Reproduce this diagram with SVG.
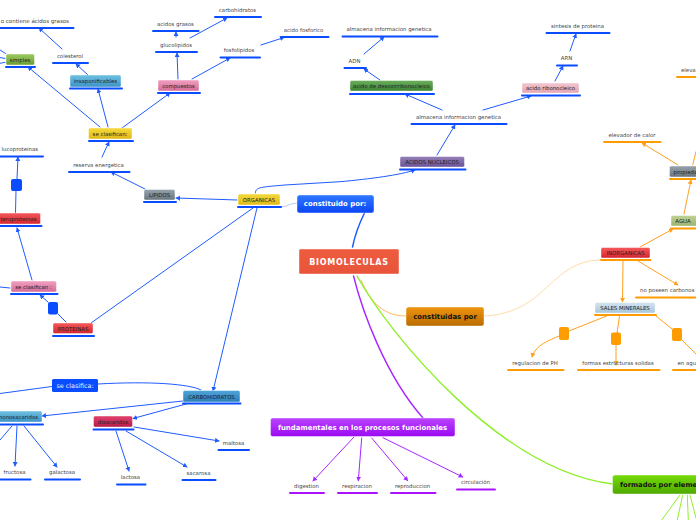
<svg xmlns="http://www.w3.org/2000/svg" width="696" height="520" viewBox="0 0 696 520">
<defs>
<style>
text{font-family:"DejaVu Sans",Verdana,sans-serif;font-size:5.4px;fill:#444;text-anchor:middle}
.n{fill:#222;font-size:5.4px}
.s{text-anchor:start}
.e{text-anchor:end}
.w{fill:#fff;font-weight:bold;font-size:8px}
.k{fill:#111;font-weight:bold;font-size:6.95px}
.box{stroke:#fff;stroke-opacity:.55;stroke-width:.8}
.c{fill:none;stroke-linecap:round}
.b{stroke:#1f5cff;stroke-width:1}
.o{stroke:#ffa020;stroke-width:1}
.p{stroke:#a626ff;stroke-width:1}
.g{stroke:#8ff02a;stroke-width:1}
.u{stroke-width:2;stroke-linecap:round}
.ub{stroke:#0a4cff}.uo{stroke:#ff9c00}.up{stroke:#a913ff}
.sqb{fill:#0a4cff}.sqo{fill:#ff9c00}
</style>
<marker id="ab" markerWidth="6" markerHeight="6" refX="4" refY="2.5" orient="auto" markerUnits="userSpaceOnUse"><path d="M0 0L4.5 2.5L0 5z" fill="#1f5cff"/></marker>
<marker id="ao" markerWidth="6" markerHeight="6" refX="4" refY="2.5" orient="auto" markerUnits="userSpaceOnUse"><path d="M0 0L4.5 2.5L0 5z" fill="#ffa020"/></marker>
<marker id="ap" markerWidth="6" markerHeight="6" refX="4" refY="2.5" orient="auto" markerUnits="userSpaceOnUse"><path d="M0 0L4.5 2.5L0 5z" fill="#a626ff"/></marker>
<linearGradient id="gGreen" x1="0" y1="0" x2="0" y2="1"><stop offset="0" stop-color="#9ccb62"/><stop offset="1" stop-color="#6b9d33"/></linearGradient>
<linearGradient id="gCyan" x1="0" y1="0" x2="0" y2="1"><stop offset="0" stop-color="#6fc1e2"/><stop offset="1" stop-color="#3b93c4"/></linearGradient>
<linearGradient id="gPink" x1="0" y1="0" x2="0" y2="1"><stop offset="0" stop-color="#f0a0c0"/><stop offset="1" stop-color="#d56c98"/></linearGradient>
<linearGradient id="gYellow" x1="0" y1="0" x2="0" y2="1"><stop offset="0" stop-color="#f5da3c"/><stop offset="1" stop-color="#e0b818"/></linearGradient>
<linearGradient id="gGrey" x1="0" y1="0" x2="0" y2="1"><stop offset="0" stop-color="#98a4ac"/><stop offset="1" stop-color="#68757e"/></linearGradient>
<linearGradient id="gRed" x1="0" y1="0" x2="0" y2="1"><stop offset="0" stop-color="#f4595c"/><stop offset="1" stop-color="#d4252e"/></linearGradient>
<linearGradient id="gBlue" x1="0" y1="0" x2="0" y2="1"><stop offset="0" stop-color="#2f78ff"/><stop offset="1" stop-color="#0a45f5"/></linearGradient>
<linearGradient id="gDark" x1="0" y1="0" x2="0" y2="1"><stop offset="0" stop-color="#4fa5d8"/><stop offset="1" stop-color="#2a7fb8"/></linearGradient>
<linearGradient id="gCrim" x1="0" y1="0" x2="0" y2="1"><stop offset="0" stop-color="#e0436c"/><stop offset="1" stop-color="#b81a48"/></linearGradient>
<linearGradient id="gForest" x1="0" y1="0" x2="0" y2="1"><stop offset="0" stop-color="#6cb05c"/><stop offset="1" stop-color="#3c8234"/></linearGradient>
<linearGradient id="gRose" x1="0" y1="0" x2="0" y2="1"><stop offset="0" stop-color="#f2c6d0"/><stop offset="1" stop-color="#e2a4b2"/></linearGradient>
<linearGradient id="gViolet" x1="0" y1="0" x2="0" y2="1"><stop offset="0" stop-color="#9580b8"/><stop offset="1" stop-color="#6a5296"/></linearGradient>
<linearGradient id="gOlive" x1="0" y1="0" x2="0" y2="1"><stop offset="0" stop-color="#bfd296"/><stop offset="1" stop-color="#9cb46e"/></linearGradient>
<linearGradient id="gIce" x1="0" y1="0" x2="0" y2="1"><stop offset="0" stop-color="#d4e4f0"/><stop offset="1" stop-color="#a8c6dc"/></linearGradient>
<linearGradient id="gOrange" x1="0" y1="0" x2="0" y2="1"><stop offset="0" stop-color="#f09410"/><stop offset="1" stop-color="#b86c00"/></linearGradient>
<linearGradient id="gPurple" x1="0" y1="0" x2="0" y2="1"><stop offset="0" stop-color="#bb44ff"/><stop offset="1" stop-color="#9a0af0"/></linearGradient>
<linearGradient id="gLime" x1="0" y1="0" x2="0" y2="1"><stop offset="0" stop-color="#74dc08"/><stop offset="1" stop-color="#4fa800"/></linearGradient>
<linearGradient id="gTomato" x1="0" y1="0" x2="0" y2="1"><stop offset="0" stop-color="#ee5c3e"/><stop offset="1" stop-color="#e8543a"/></linearGradient>
</defs>
<rect width="696" height="520" fill="#fff"/>
<g id="connectors">
<g class="c b" marker-end="url(#ab)">
<path d="M100 127L28 67"/><path d="M108 127L98 89"/><path d="M122 128L170 93"/><path d="M102 157L109 142"/><path d="M145 189L111 172"/><path d="M237 200L176 198"/><path d="M88 75L76 64"/><path d="M62 49L39 28"/><path d="M178 79L177 53"/><path d="M192 79L230 58"/><path d="M176 37L176 32"/><path d="M190 38L227 18"/><path d="M261 45L284 37.5"/>
<path d="M255.500 193C255 187 262 187 285 185L340 181.700C370 179 400 175 415 170"/>
<path d="M257 208L213 391"/>
<path d="M48 302L40 295"/><path d="M32 280L17 228"/><path d="M17 179L18 157"/>
<path d="M183 401L42 416"/><path d="M186 404L133 418.500"/><path d="M134 427L219 441"/><path d="M126 431L187 467"/><path d="M116 431L129 471"/><path d="M17 426L15 466"/><path d="M24 426L57 467"/>
<path d="M437 155L455 125"/><path d="M442 110L405 94"/><path d="M483 110L531 96"/><path d="M380 80L364 69"/><path d="M364 54L384 37"/><path d="M555 81L563 66"/><path d="M570 51L576 34"/>
</g>
<g class="c b">
<path d="M253 208L91 323"/><path d="M0 50L5.500 53.500"/><path d="M0 57.500L5 58.500"/><path d="M0 63.300L5 62.300"/><path d="M15.500 213L16 191"/><path d="M66 322L58 314"/><path d="M0 287L10 288"/><path d="M201 390C190 384 150 381 98 384"/><path d="M52 386.500L0 393.500"/><path d="M12 426L0 440"/>
</g>
<path class="c" d="M281 207C287 207 290 203 297 203" stroke="#b8ccff" stroke-width="1"/>
<path class="c" d="M364.500 213C358 226 355 235 352.500 247" stroke="#1f5cff" stroke-width="1.500"/>
<g class="c p" marker-end="url(#ap)">
<path d="M354 437L313 481"/><path d="M361.700 438L358.300 480.700"/><path d="M371.700 438L407.700 480.700"/><path d="M383 437.700L462.700 477"/>
</g>
<path class="c" d="M361 280C372 305 385 316 406 316" stroke="#ffb860" stroke-width="1"/>
<path class="c" d="M484 316C525 314 540 292 555 280C570 266 585 260 600 260" stroke="#ffdca8" stroke-width="1"/>
<path class="c" d="M353.500 276C362 310 385 375 423 418" stroke="#a626ff" stroke-width="1.400"/>
<path class="c" d="M357 276C390 335 500 470 612.500 484" stroke="#8ff02a" stroke-width="1.400"/>
<g class="c g"><path d="M680 495L661.700 520"/><path d="M682.700 495L677.300 520"/><path d="M687.300 495L688.300 520"/><path d="M690 495L696 518"/></g>
<g class="c o" marker-end="url(#ao)">
<path d="M640 247L673 229"/><path d="M684 214L691 180"/><path d="M678 165L642 143"/><path d="M623 261L622.500 302"/><path d="M638 261L678 285"/><path d="M559 336C550 340 535 345 532 357"/><path d="M616 345L616 365"/>
</g>
<g class="c o"><path d="M692.700 165L696 151.700"/><path d="M606.700 316L569 331"/><path d="M619.500 316L617 333"/><path d="M656 316L672 329"/><path d="M682 340L696 354"/></g>
</g>
<g id="sq1"><rect class="sqb" x="11" y="179" width="11" height="12" rx="2"/></g>
<g id="sq2"><rect class="sqb" x="48" y="302" width="10" height="12.500" rx="2"/></g>
<g id="sq3"><rect class="sqo" x="559" y="327" width="10" height="13" rx="2"/></g>
<g id="sq4"><rect class="sqo" x="611" y="332.500" width="10" height="12.500" rx="2"/></g>
<g id="sq5"><rect class="sqo" x="672" y="328" width="10" height="13" rx="2"/></g>

<g id="biomoleculas"><rect x="299" y="249" width="100" height="25" rx="1.500" fill="url(#gTomato)" class="box"/><text x="349" y="265" class="w" style="letter-spacing:.75px">BIOMOLECULAS</text></g>
<g id="constituido"><rect x="297" y="195" width="77" height="18" rx="2.500" fill="url(#gBlue)" class="box"/><text x="335" y="206" class="w" style="font-size:6.950px">constituido por:</text></g>
<g id="constituidas"><rect x="406" y="307" width="78" height="19" rx="2.500" fill="url(#gOrange)" class="box"/><text x="445" y="319" class="k">constituidas por</text></g>
<g id="fundamentales"><rect x="270.500" y="418" width="184.500" height="18.500" rx="2" fill="url(#gPurple)" class="box"/><text x="362.500" y="430" class="w" style="font-size:6.950px">fundamentales en los procesos funcionales</text></g>
<g id="formados"><rect x="612.500" y="475" width="90" height="19" rx="2.500" fill="url(#gLime)" class="box"/><text x="620" y="487" class="k s" style="font-size:6.800px">formados por eleme</text></g>

<g id="organicas"><rect x="238" y="194" width="42" height="11" rx="1.500" fill="url(#gYellow)" class="box"/><line class="u ub" x1="238" y1="207" x2="281" y2="207"/><text class="n" x="259" y="202">ORGANICAS</text></g>
<g id="lipidos"><rect x="144" y="189.500" width="31" height="10.500" rx="1.500" fill="url(#gGrey)" class="box"/><line class="u ub" x1="144" y1="202" x2="176" y2="202"/><text class="n" x="159.500" y="197">LIPIDOS</text></g>
<g id="clasifican"><rect x="88.500" y="128" width="43.500" height="11" rx="1.500" fill="url(#gYellow)" class="box"/><line class="u ub" x1="89" y1="141" x2="133" y2="141"/><text class="n" x="110" y="136">se clasifican:</text></g>
<g id="simples"><rect x="6" y="54" width="28.500" height="11" rx="1.500" fill="url(#gGreen)" class="box"/><line class="u ub" x1="6" y1="67" x2="35" y2="67"/><text class="n" x="20" y="62">simples</text></g>
<g id="insaponificables"><rect x="70" y="75" width="51" height="12" rx="1.500" fill="url(#gCyan)" class="box"/><line class="u ub" x1="70" y1="88.500" x2="122" y2="88.500"/><text class="n" x="95.500" y="83">insaponificables</text></g>
<g id="compuestos"><rect x="158" y="80" width="41" height="11" rx="1.500" fill="url(#gPink)" class="box"/><line class="u ub" x1="158" y1="93" x2="200" y2="93"/><text class="n" x="178.500" y="88">compuestos</text></g>
<g id="heteroproteinas"><rect x="-10" y="213" width="50.500" height="11" rx="1.500" fill="url(#gRed)" class="box"/><line class="u ub" x1="0" y1="226" x2="41.500" y2="226"/><text class="n e" x="36.500" y="221">teroproteinas</text></g>
<g id="clasifican2"><rect x="11" y="281" width="45.500" height="11" rx="1.500" fill="url(#gPink)" class="box"/><line class="u ub" x1="11" y1="294" x2="57.500" y2="294"/><text class="n" x="33.500" y="289">se clasifican :</text></g>
<g id="proteinas"><rect x="53" y="323" width="40" height="10.500" rx="1.500" fill="url(#gRed)" class="box"/><line class="u ub" x1="53" y1="336" x2="94" y2="336"/><text class="n" x="73" y="331">PROTEINAS</text></g>
<g id="clasifica"><rect x="52" y="379" width="46" height="13" rx="1.500" fill="#0a4cff"/><text x="75" y="387.800" style="fill:#e8efff;font-size:6.400px">se clasifica:</text></g>
<g id="carbohidratos"><rect x="183" y="390.500" width="57" height="11.500" rx="1.500" fill="url(#gDark)" class="box"/><line class="u ub" x1="183" y1="403.500" x2="240.500" y2="403.500"/><text class="n" x="211.500" y="398.500">CARBOHIDRATOS</text></g>
<g id="monosacaridos"><rect x="-10" y="411" width="52" height="11" rx="1.500" fill="url(#gCyan)" class="box"/><line class="u ub" x1="0" y1="424.500" x2="43" y2="424.500"/><text class="n e" x="38" y="419">nonosacaridos</text></g>
<g id="disacaridos"><rect x="93.500" y="416" width="39" height="11" rx="1.500" fill="url(#gCrim)" class="box"/><line class="u ub" x1="93.500" y1="429.500" x2="133.500" y2="429.500"/><text class="n" x="113" y="424">disacaridos</text></g>
<g id="desoxi"><rect x="350" y="80.500" width="83" height="10.500" rx="1.500" fill="url(#gForest)" class="box"/><line class="u ub" x1="350" y1="94" x2="434" y2="94"/><text class="n" x="391.500" y="88">acido de desoxirribonocleico</text></g>
<g id="ribo"><rect x="522" y="83" width="57" height="10" rx="1.500" fill="url(#gRose)" class="box"/><line class="u ub" x1="522" y1="95.500" x2="580" y2="95.500"/><text class="n" x="550.500" y="90">acido ribonocleico</text></g>
<g id="nucleicos"><rect x="400" y="156.500" width="64.500" height="10.500" rx="1.500" fill="url(#gViolet)" class="box"/><line class="u ub" x1="400" y1="169.500" x2="465.500" y2="169.500"/><text class="n" x="432" y="164">ACIDOS NUCLEICOS</text></g>
<g id="inorganicas"><rect x="601" y="247.500" width="49" height="10.500" rx="1.500" fill="url(#gRed)" class="box"/><line class="u uo" x1="601" y1="260" x2="650.500" y2="260"/><text class="n" x="625.500" y="255">INORGANICAS</text></g>
<g id="agua"><rect x="671" y="215.500" width="30" height="10.500" rx="1.500" fill="url(#gOlive)" class="box"/><line class="u uo" x1="671" y1="228.500" x2="700" y2="228.500"/><text class="n" x="683" y="223.300">AGUA</text></g>
<g id="propiedades"><rect x="669.500" y="166" width="35" height="11" rx="1.500" fill="url(#gGrey)" class="box"/><line class="u uo" x1="670" y1="179" x2="700" y2="179"/><text class="n s" x="673.500" y="174">propieda</text></g>
<g id="sales"><rect x="595" y="302.500" width="60" height="10.500" rx="1.500" fill="url(#gIce)" class="box"/><line class="u uo" x1="595" y1="315" x2="656" y2="315"/><text class="n" x="625" y="310">SALES MINERALES</text></g>

<g id="l1"><line class="u ub" x1="0" y1="28" x2="73.500" y2="28"/><text class="e" x="69" y="23" style="font-size:5.500px">o contiene ácidos grasos</text></g>
<g id="l2"><line class="u ub" x1="53" y1="63" x2="88" y2="63"/><text x="70" y="58">colesterol</text></g>
<g id="l3"><line class="u ub" x1="153" y1="31" x2="198.500" y2="31"/><text x="175.500" y="26">acidos grasos</text></g>
<g id="l4"><line class="u ub" x1="215" y1="17" x2="261" y2="17"/><text x="237.500" y="12">carbohidratos</text></g>
<g id="l5"><line class="u ub" x1="156" y1="52" x2="197" y2="52"/><text x="176" y="47">glucolipidos</text></g>
<g id="l6"><line class="u ub" x1="220.500" y1="57.500" x2="260" y2="57.500"/><text x="239" y="52">fosfolipidos</text></g>
<g id="l7"><line class="u ub" x1="281" y1="37" x2="328.500" y2="37"/><text x="303.500" y="32">acido fosforico</text></g>
<g id="l8"><line class="u ub" x1="69" y1="172" x2="129.500" y2="172"/><text x="98.500" y="167">reserva energetica</text></g>
<g id="l9"><line class="u ub" x1="0" y1="156.500" x2="43" y2="156.500"/><text class="e" x="38" y="151">lucoproteinas</text></g>
<g id="l10"><line class="u ub" x1="218.500" y1="450" x2="249" y2="450"/><text x="233.500" y="445">maltosa</text></g>
<g id="l11"><line class="u ub" x1="182.500" y1="480" x2="215.500" y2="480"/><text x="198.500" y="475">sacarosa</text></g>
<g id="l12"><line class="u ub" x1="117" y1="484.500" x2="145.500" y2="484.500"/><text x="130.500" y="479">lactosa</text></g>
<g id="l13"><line class="u ub" x1="0" y1="479.500" x2="30.500" y2="479.500"/><text x="14.500" y="474">fructosa</text></g>
<g id="l14"><line class="u ub" x1="45" y1="479.500" x2="80" y2="479.500"/><text x="62" y="474">galactosa</text></g>
<g id="l15"><line class="u ub" x1="342.500" y1="36.500" x2="437.500" y2="36.500"/><text x="389" y="31">almacena informacion genetica</text></g>
<g id="l16"><line class="u ub" x1="344.500" y1="68" x2="366" y2="68"/><text x="354.500" y="63">ADN</text></g>
<g id="l17"><line class="u ub" x1="411.500" y1="124" x2="506.500" y2="124"/><text x="458.500" y="119">almacena informacion genetica</text></g>
<g id="l18"><line class="u ub" x1="546.500" y1="33" x2="609.500" y2="33"/><text x="577.500" y="28">sintesis de proteina</text></g>
<g id="l19"><line class="u ub" x1="557" y1="65.500" x2="577" y2="65.500"/><text x="566.500" y="60">ARN</text></g>
<g id="l20"><line class="u up" x1="290" y1="493" x2="324" y2="493"/><text x="306.500" y="488">digestion</text></g>
<g id="l21"><line class="u up" x1="338" y1="493" x2="377" y2="493"/><text x="357" y="488">respiracion</text></g>
<g id="l22"><line class="u up" x1="391" y1="493" x2="435.500" y2="493"/><text x="412.500" y="488">reproduccion</text></g>
<g id="l23"><line class="u up" x1="457" y1="489.500" x2="495" y2="489.500"/><text x="475.500" y="484">circulación</text></g>
<g id="l24"><line class="u uo" x1="604" y1="142" x2="660.500" y2="142"/><text x="632" y="137">elevador de calor</text></g>
<g id="l25"><line class="u uo" x1="677" y1="77" x2="700" y2="77"/><text class="s" x="681" y="72">eleva</text></g>
<g id="l26"><line class="u uo" x1="636" y1="297.500" x2="700" y2="297.500"/><text class="s" x="640" y="292">no poseen carbonos</text></g>
<g id="l27"><line class="u uo" x1="508" y1="370" x2="563.500" y2="370"/><text x="535" y="365">regulacion de PH</text></g>
<g id="l28"><line class="u uo" x1="578" y1="370" x2="659.500" y2="370"/><text x="618" y="365">formas estructuras solidas</text></g>
<g id="l29"><line class="u uo" x1="673" y1="370" x2="700" y2="370"/><text class="s" x="677.500" y="365">en agu</text></g>
</svg>
